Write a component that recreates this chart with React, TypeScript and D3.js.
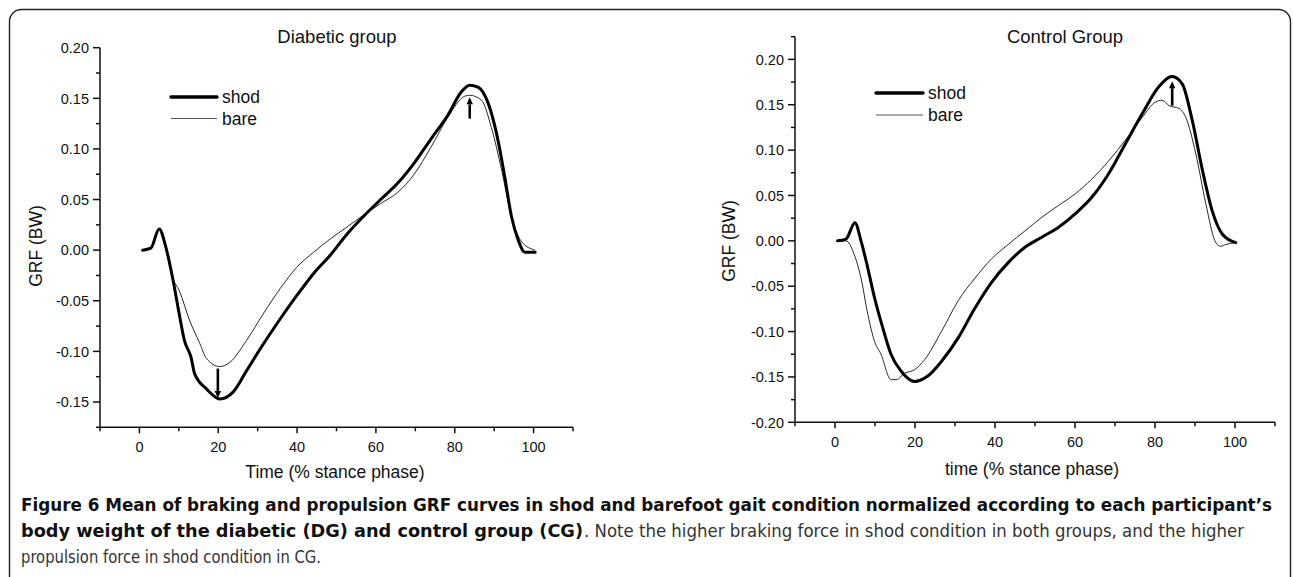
import React from "react";
import * as d3 from "d3";

// stance phase (%) vs GRF (BW)
const diabeticShod: [number, number][] = [
  [0.8, 0.0], [2.9, 0.002], [5.0, 0.021], [6.7, 0.003], [8.4, -0.027], [10.1, -0.063],
  [11.4, -0.089], [13.1, -0.106], [14.0, -0.122], [17.0, -0.137], [20.4, -0.147],
  [23.8, -0.14], [27.2, -0.119], [31.4, -0.093], [35.7, -0.068], [39.9, -0.045],
  [44.2, -0.023], [48.4, -0.005], [52.7, 0.016], [57.0, 0.034], [61.2, 0.05],
  [65.5, 0.066], [69.7, 0.086], [74.0, 0.11], [78.2, 0.133], [81.6, 0.156],
  [83.8, 0.163], [85.9, 0.161], [88.5, 0.145], [91.0, 0.108], [92.7, 0.072],
  [94.4, 0.033], [96.1, 0.01], [97.8, -0.002], [100.4, -0.002],
];
const diabeticBare: [number, number][] = [
  [0.8, 0.0], [2.9, 0.002], [5.0, 0.021], [6.7, 0.003], [8.4, -0.027], [10.1, -0.04],
  [12.7, -0.069], [15.3, -0.092], [17.0, -0.107], [20.4, -0.115], [22.9, -0.111],
  [27.2, -0.089], [31.4, -0.063], [35.7, -0.038], [39.9, -0.017], [44.2, -0.002],
  [48.4, 0.011], [52.7, 0.023], [57.0, 0.035], [61.2, 0.046], [65.5, 0.057],
  [69.7, 0.075], [74.0, 0.102], [78.2, 0.131], [82.5, 0.152], [83.8, 0.153],
  [86.8, 0.148], [89.3, 0.121], [91.9, 0.079], [94.4, 0.033], [97.0, 0.008], [100.4, 0.0],
];
const controlShod: [number, number][] = [
  [0.65, 0.0], [2.75, 0.002], [5.0, 0.02], [6.5, 0.0], [8.2, -0.03], [9.9, -0.063],
  [11.95, -0.096], [14.0, -0.125], [16.6, -0.144], [19.9, -0.155], [23.2, -0.149],
  [26.6, -0.133], [30.8, -0.107], [35.0, -0.074], [39.1, -0.046], [43.3, -0.024],
  [47.5, -0.007], [51.7, 0.004], [55.9, 0.015], [60.1, 0.03], [64.2, 0.048],
  [68.4, 0.074], [72.6, 0.107], [76.8, 0.14], [81.0, 0.17], [84.3, 0.181],
  [86.8, 0.173], [89.3, 0.133], [91.9, 0.077], [94.3, 0.033], [96.9, 0.007], [100.2, -0.002],
];
const controlBare: [number, number][] = [
  [0.65, 0.0], [2.75, 0.0], [4.8, -0.015], [6.5, -0.041], [8.2, -0.081], [9.9, -0.111],
  [11.5, -0.125], [14.0, -0.153], [15.3, -0.153], [17.4, -0.146], [19.9, -0.142],
  [22.4, -0.131], [26.6, -0.1], [30.8, -0.066], [35.0, -0.041], [39.1, -0.02],
  [43.3, -0.004], [47.5, 0.011], [51.7, 0.026], [55.9, 0.039], [60.1, 0.052],
  [64.2, 0.068], [68.4, 0.088], [72.6, 0.111], [76.8, 0.136], [80.1, 0.153],
  [81.8, 0.155], [83.5, 0.149], [86.0, 0.146], [87.7, 0.136], [90.2, 0.096],
  [92.7, 0.041], [95.2, -0.002], [96.4, -0.006], [97.7, -0.004], [100.2, -0.002],
];

// arrows: time, from value, to value (tip)
const diabeticArrows = [
  { t: 19.9, from: -0.117, to: -0.146 },
  { t: 83.8, from: 0.13, to: 0.151 },
];
const controlArrows = [{ t: 84.3, from: 0.149, to: 0.176 }];

const xTickLabels = [0, 20, 40, 60, 80, 100];
const diabeticYTicks = [-0.15, -0.1, -0.05, 0, 0.05, 0.1, 0.15, 0.2];
const controlYTicks = [-0.2, -0.15, -0.1, -0.05, 0, 0.05, 0.1, 0.15, 0.2];
const seriesNames = ["shod", "bare"];

const FONT = "'Liberation Sans', Arial, Helvetica, sans-serif";
const CAP_FONT = "'Liberation Sans Narrow', 'DejaVu Sans Condensed', 'Liberation Sans', sans-serif";

const fmt = (v: number) => (Math.abs(v) < 1e-9 ? 0 : v).toFixed(2);

function Panel(props: any) {
  const {
    title, titleX, xLabel, xLabelX, xLabelY, yLabelX, yLabelY,
    xRange, yDomain, yRange, yTicks, shod, bare, arrows, legend,
  } = props;

  const x = d3.scaleLinear().domain([-10, 110]).range(xRange);
  const y = d3.scaleLinear().domain(yDomain).range(yRange);
  const line = d3
    .line<[number, number]>()
    .x((d) => x(d[0]))
    .y((d) => y(d[1]))
    .curve(d3.curveMonotoneX);

  const x0 = xRange[0];
  const yBase = y(yDomain[0]);
  const xTicksAll = d3.range(-10, 111, 10);
  const yMinor = d3.range(yDomain[0], yDomain[1] + 0.001, 0.025).filter(
    (v) => !yTicks.some((t: number) => Math.abs(t - v) < 1e-6)
  );

  return (
    <g fontFamily={FONT} fill="#111">
      <text x={titleX} y={43} fontSize={18.5} textAnchor="middle">{title}</text>

      {/* axes */}
      <line x1={x0} x2={x0} y1={y(yDomain[1])} y2={yBase} stroke="#111" strokeWidth={1.5} />
      <line x1={x0} x2={xRange[1]} y1={yBase} y2={yBase} stroke="#111" strokeWidth={1.5} />

      {yTicks.map((v: number) => (
        <g key={"y" + v}>
          <line x1={x0 - 7} x2={x0} y1={y(v)} y2={y(v)} stroke="#111" strokeWidth={1.5} />
          <text x={x0 - 11} y={y(v)} dy="0.36em" fontSize={14.5} textAnchor="end">{fmt(v)}</text>
        </g>
      ))}
      {yMinor.map((v: number) => (
        <line key={"ym" + v} x1={x0 - 4} x2={x0} y1={y(v)} y2={y(v)} stroke="#111" strokeWidth={1.5} />
      ))}

      {xTicksAll.map((t) => {
        const major = xTickLabels.includes(t);
        return (
          <g key={"x" + t}>
            <line x1={x(t)} x2={x(t)} y1={yBase} y2={yBase + (major ? 6 : 4)} stroke="#111" strokeWidth={1.5} />
            {major && (
              <text x={x(t)} y={yBase + 24.5} fontSize={14.5} textAnchor="middle">{t}</text>
            )}
          </g>
        );
      })}

      <text x={xLabelX} y={xLabelY} fontSize={17.5} textAnchor="middle">{xLabel}</text>
      <text
        transform={`translate(${yLabelX},${yLabelY}) rotate(-90)`}
        fontSize={17.5}
        textAnchor="middle"
      >
        GRF (BW)
      </text>

      {/* curves */}
      <path d={line(bare) || ""} fill="none" stroke="#111" strokeWidth={0.9} />
      <path d={line(shod) || ""} fill="none" stroke="#000" strokeWidth={3} strokeLinejoin="round" strokeLinecap="round" />

      {/* arrows */}
      {arrows.map((a: any, i: number) => {
        const xa = x(a.t);
        const y1 = y(a.from);
        const y2 = y(a.to);
        const dir = y2 > y1 ? 1 : -1;
        const baseY = y2 - dir * 7;
        return (
          <g key={"a" + i}>
            <line x1={xa} x2={xa} y1={y1} y2={baseY} stroke="#000" strokeWidth={2.6} />
            <path d={`M${xa - 3.2},${baseY} L${xa + 3.2},${baseY} L${xa},${y2} Z`} fill="#000" />
          </g>
        );
      })}

      {/* legend */}
      {seriesNames.map((name, i) => {
        const ly = legend.y[i];
        return (
          <g key={name}>
            <line
              x1={legend.x0}
              x2={legend.x1}
              y1={ly}
              y2={ly}
              stroke={i === 0 ? "#000" : "#555"}
              strokeWidth={i === 0 ? 3.4 : 1}
              strokeLinecap={i === 0 ? "round" : "butt"}
            />
            <text x={legend.textX} y={ly} dy="0.35em" fontSize={17.5}>{name}</text>
          </g>
        );
      })}
    </g>
  );
}

export default function App() {
  return (
    <div style={{ position: "absolute", left: 0, top: 0 }}>
      <svg width={1293} height={577} style={{ display: "block", background: "#fff" }}>
        <rect x={9.5} y={9.5} width={1281} height={620} rx={12} ry={12} fill="none" stroke="#222" strokeWidth={1.4} />

        <Panel
          title="Diabetic group"
          titleX={337}
          xLabel="Time (% stance phase)"
          xLabelX={335}
          xLabelY={478}
          yLabelX={42}
          yLabelY={246}
          xRange={[100, 573]}
          yDomain={[-0.175, 0.2]}
          yRange={[427.3, 47.7]}
          yTicks={diabeticYTicks}
          shod={diabeticShod}
          bare={diabeticBare}
          arrows={diabeticArrows}
          legend={{ x0: 171, x1: 217, y: [97, 118.5], textX: 222 }}
        />
        <Panel
          title="Control Group"
          titleX={1065}
          xLabel="time (% stance phase)"
          xLabelX={1032}
          xLabelY={475}
          yLabelX={735}
          yLabelY={241}
          xRange={[795, 1275]}
          yDomain={[-0.2, 0.225]}
          yRange={[422.3, 36.7]}
          yTicks={controlYTicks}
          shod={controlShod}
          bare={controlBare}
          arrows={controlArrows}
          legend={{ x0: 876, x1: 923, y: [93, 115], textX: 928 }}
        />

        {/* caption */}
        <g fontFamily={CAP_FONT} fontSize={17}>
          <text x={21} y={511} fontWeight="bold" fill="#111" textLength={1251} lengthAdjust="spacingAndGlyphs">
            Figure 6 Mean of braking and propulsion GRF curves in shod and barefoot gait condition normalized according to each participant’s
          </text>
          <text x={21} y={537} fontWeight="bold" fill="#111" textLength={562} lengthAdjust="spacingAndGlyphs">
            body weight of the diabetic (DG) and control group (CG)
          </text>
          <text x={584} y={537} fill="#333" textLength={660} lengthAdjust="spacingAndGlyphs">
            . Note the higher braking force in shod condition in both groups, and the higher
          </text>
          <text x={21} y={563} fill="#333" textLength={300} lengthAdjust="spacingAndGlyphs">
            propulsion force in shod condition in CG.
          </text>
        </g>
      </svg>
    </div>
  );
}
